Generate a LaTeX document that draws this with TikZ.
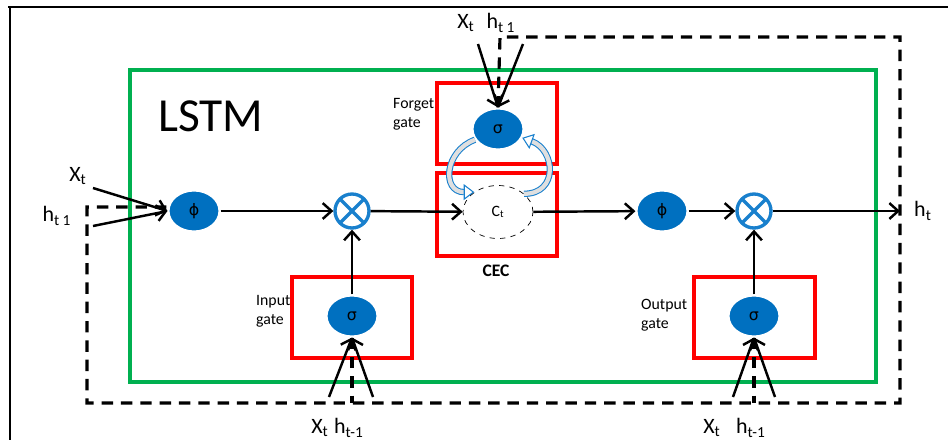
\documentclass[tikz,border=0pt]{standalone}
\usepackage{fontspec}
\setmainfont{Carlito}
\newfontfamily\grk{DejaVu Sans}
\usetikzlibrary{shapes.geometric,arrows.meta,positioning}
\definecolor{lgreen}{RGB}{0,176,80}
\definecolor{lblue}{RGB}{0,112,192}
\definecolor{lring}{RGB}{25,128,205}
\begin{document}
\begin{tikzpicture}[x=0.02cm,y=-0.02cm,
  act/.style={ellipse,fill=lblue,draw=white,line width=1.2pt,minimum width=1.02cm,minimum height=0.82cm,inner sep=0pt,font=\grk\small},
  mul/.style={circle,draw=lring,line width=1.9pt,minimum size=0.68cm,inner sep=0pt,
    path picture={\draw[lring,line width=2pt](path picture bounding box.south west)--(path picture bounding box.north east)
      (path picture bounding box.north west)--(path picture bounding box.south east);}},
  gatebox/.style={draw=red,line width=2.1pt},
  flow/.style={line width=1.4pt,-{Straight Barb[length=5pt,width=9pt]}},
  loopline/.style={line width=1.8pt,dash pattern=on 6.5pt off 4.5pt},
  cyc/.style={draw=lring,double=gray!25,double distance=2.4pt,line width=0.6pt,looseness=1.6,-{Triangle[open,length=6pt,width=9pt]}},
  lbl/.style={font=\fontsize{12.5}{12.5}\selectfont},
  gatelbl/.style={font=\fontsize{9}{11}\selectfont,align=left,anchor=west}]
\useasboundingbox (0,0) rectangle (948,440);
% frame
\draw[line width=1pt] (8,7) -- (948,7);
\draw[line width=1.1pt] (10,7) -- (10,440);
% lstm cell
\draw[lgreen,line width=2.8pt] (130,70) rectangle (876,382);
\node[anchor=west,font=\fontsize{27}{27}\selectfont] (title) at (152,116) {LSTM};
% gate boxes
\draw[gatebox] (292,277) rectangle (412,358);
\draw[gatebox] (437,83) rectangle (557,164);
\draw[gatebox] (437,173) rectangle (557,256);
\draw[gatebox] (694,277) rectangle (815,358);
% units
\node[act] (phiA) at (194,211) {ϕ};
\node[mul] (mulA) at (352,211) {};
\node[act] (isig) at (352,316) {σ};
\node[act] (fsig) at (498,129) {σ};
\node[ellipse,draw,dashed,minimum width=1.4cm,minimum height=1.06cm,font=\small] (ct) at (498,212) {C\textsubscript{t}};
\node[act] (phiB) at (662,211) {ϕ};
\node[mul] (mulB) at (754,211) {};
\node[act] (osig) at (754,316) {σ};
% labels
\node[gatelbl] (ilbl) at (250,311) {Input\\gate};
\node[gatelbl] (flbl) at (387,114) {Forget\\gate};
\node[gatelbl] (olbl) at (635,315) {Output\\gate};
\node[font=\fontsize{10}{10}\selectfont\bfseries] (cec) at (496,271) {CEC};
\node[lbl] (xA) at (78,176) {X\textsubscript{t}};
\node[lbl] (hA) at (57,216) {h\textsubscript{t 1}};
\node[lbl] (xF) at (466,23) {X\textsubscript{t}};
\node[lbl] (hF) at (501,23) {h\textsubscript{t 1}};
\node[lbl] (xI) at (320,428) {X\textsubscript{t}};
\node[lbl] (hI) at (349,428) {h\textsubscript{t-1}};
\node[lbl] (xO) at (712,428) {X\textsubscript{t}};
\node[lbl] (hO) at (751,428) {h\textsubscript{t-1}};
\node[lbl] (ht) at (923,211) {h\textsubscript{t}};
% recurrent h loop
\coordinate (tl) at (500,37);
\coordinate (tr) at (900,37);
\coordinate (br) at (900,403);
\coordinate (bl) at (87,403);
\coordinate (ml) at (87,207);
\coordinate (out) at (900,211);
\draw[loopline] (fsig.north) -- (tl) -- (tr) -- (br) -- (bl) -- (ml) -- (phiA.west |- ml);
\draw[loopline] (isig.south) -- (isig.south |- bl);
\draw[loopline] (osig.south) -- (osig.south |- bl);
% inputs
\coordinate (xAs) at (93,188);
\coordinate (hAs) at (93,226);
\coordinate (xFs) at (478,44);
\coordinate (hFs) at (523,44);
\coordinate (xIs) at (329,397);
\coordinate (hIs) at (373,397);
\coordinate (xOs) at (733,397);
\coordinate (hOs) at (775,397);
\foreach \s/\t in {xAs/phiA.west,hAs/phiA.west,xFs/fsig.north,hFs/fsig.north,xIs/isig.south,hIs/isig.south,xOs/osig.south,hOs/osig.south}{\draw[flow] (\s) -- (\t);}
% main path
\draw[flow] (phiA) -- (mulA);
\draw[flow] (mulA) -- (ct);
\draw[flow] (ct) -- (phiB);
\draw[flow] (phiB) -- (mulB);
\draw[flow] (mulB) -- (out);
\draw[flow] (isig) -- (mulA);
\draw[flow] (osig) -- (mulB);
% cec feedback
\draw[cyc] (fsig.205) to[out=200,in=180] (ct.140);
\draw[cyc] (ct.35) to[out=0,in=-20] (fsig.-20);
\end{tikzpicture}
\end{document}
